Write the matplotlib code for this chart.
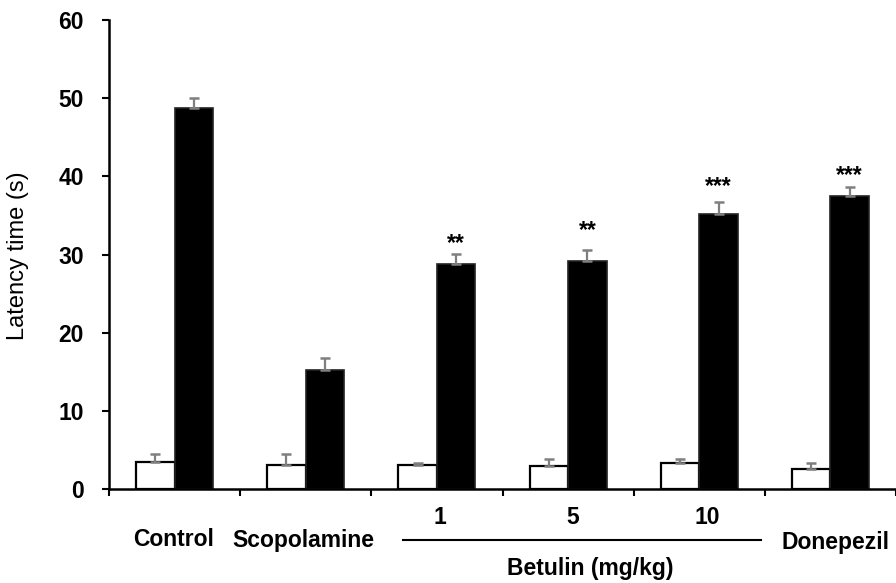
import matplotlib
matplotlib.use("Agg")
import matplotlib.pyplot as plt
import matplotlib.transforms as mtransforms
import numpy as np

# ---- data ----
groups = ["Control", "Scopolamine", "1", "5", "10", "Donepezil"]
white_vals = [3.49, 3.07, 3.07, 2.94, 3.36, 2.56]
white_err = [0.95, 1.37, 0.30, 0.86, 0.44, 0.73]
black_vals = [48.78, 15.22, 28.75, 29.17, 35.14, 37.48]
black_err = [1.20, 1.58, 1.28, 1.37, 1.57, 1.19]
stars = ["", "", "**", "**", "***", "***"]
star_y = [None, None, 30.6, 32.2, 37.9, 39.3]
yticks = [0, 10, 20, 30, 40, 50, 60]
ylabel = "Latency time (s)"
betulin_label = "Betulin (mg/kg)"

plt.rcParams['font.family'] = ['Liberation Sans', 'DejaVu Sans']

fig = plt.figure(figsize=(8.96, 5.83), dpi=100)
ax = fig.add_axes([109/896, 94/583, 787/896, 469/583])

x = np.arange(len(groups))
w = 0.294
ax.bar(x - w/2, white_vals, width=w, color='white', edgecolor='black', linewidth=1.6, zorder=2)
ax.bar(x + w/2, black_vals, width=w, color='black', edgecolor='#222222', linewidth=1.2, zorder=2)
ax.errorbar(x - w/2, white_vals, yerr=[np.zeros(len(x)), white_err], fmt='none',
            ecolor='#7f7f7f', elinewidth=1.6, capsize=3.5, capthick=1.8, zorder=3)
ax.errorbar(x + w/2, black_vals, yerr=[np.zeros(len(x)), black_err], fmt='none',
            ecolor='#7f7f7f', elinewidth=1.6, capsize=3.5, capthick=1.8, zorder=3)

for i, s in enumerate(stars):
    if s:
        ax.text(x[i] + w/2, star_y[i], s, ha='center', va='baseline',
                fontsize=16.5, fontweight='bold')

ax.set_ylim(0, 60)
ax.set_xlim(-0.5, 5.435)
ax.set_yticks(yticks)
ax.set_yticklabels([str(t) for t in yticks], fontsize=16.5, fontweight='bold')
ax.set_xticks(np.arange(-0.5, len(groups), 1.0))
ax.set_xticklabels([])
ax.tick_params(axis='y', direction='out', length=5, width=1.5, pad=13)
ax.tick_params(axis='x', direction='out', length=5, width=1.5)
for sp in ['top', 'right']:
    ax.spines[sp].set_visible(False)
for sp in ['left', 'bottom']:
    ax.spines[sp].set_linewidth(1.8)
ax.spines['bottom'].set_clip_on(False)

trans = mtransforms.blended_transform_factory(ax.transData, fig.transFigure)
label_y = {0: 1 - 540/583, 1: 1 - 540/583, 5: 1 - 542/583}
label_dx = {0: -0.01, 1: -0.02, 5: 0.04}
for i in [0, 1, 5]:
    ax.text(x[i] + label_dx[i], label_y[i], groups[i], transform=trans, ha='center', va='center',
            fontsize=16.5, fontweight='bold', clip_on=False)
num_dx = {2: 0.02, 3: 0.035, 4: 0.06}
for i in [2, 3, 4]:
    ax.text(x[i] + num_dx[i], 1 - 517/583, groups[i], transform=trans, ha='center', va='center',
            fontsize=16.5, fontweight='bold', clip_on=False)
ax.plot([1.74, 4.47], [1 - 540/583, 1 - 540/583], transform=trans, color='black',
        linewidth=1.5, clip_on=False)
ax.text(3.17, 1 - 568/583, betulin_label, transform=trans, ha='center', va='center',
        fontsize=16.5, fontweight='bold', clip_on=False)

fig.text(18/896, 1 - 256/583, ylabel, rotation=90, ha='center', va='center', fontsize=17)

fig.savefig("out.png", dpi=100)
